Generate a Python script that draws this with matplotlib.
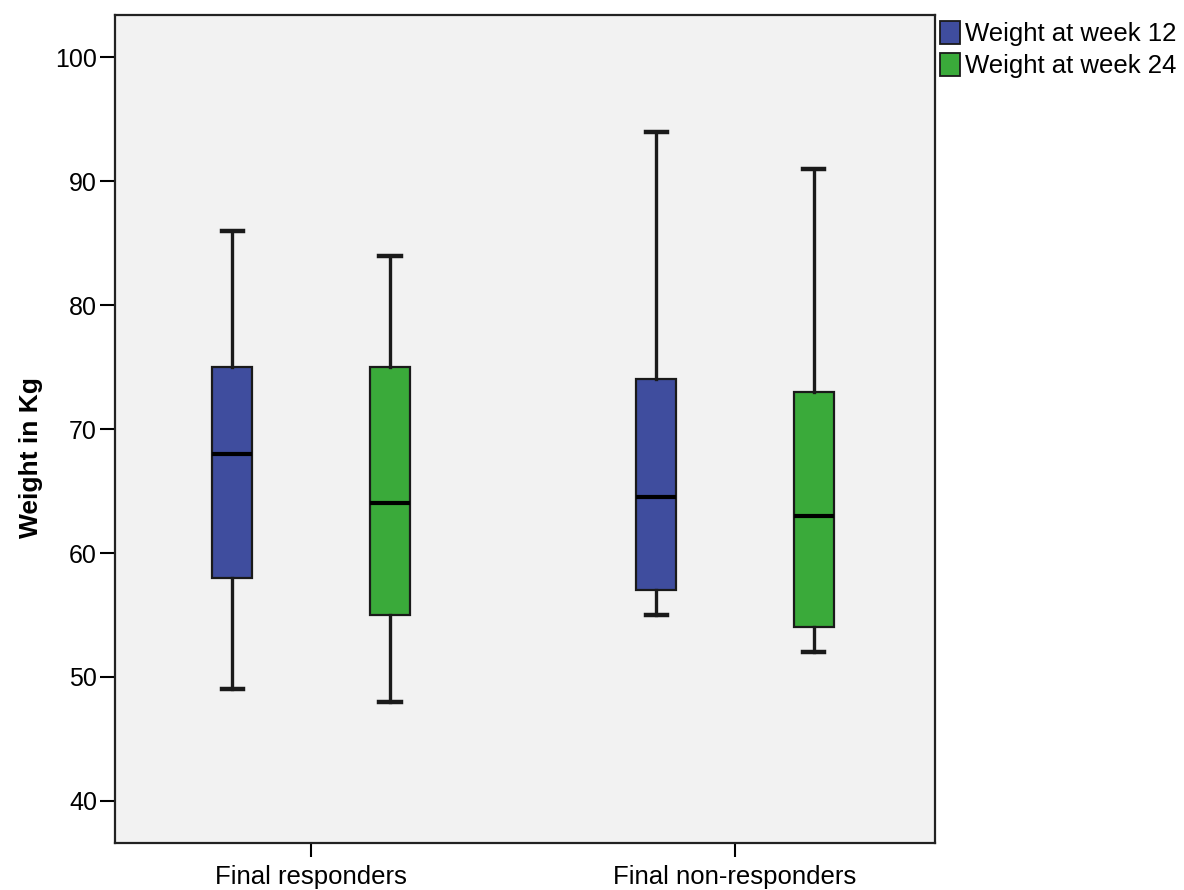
import matplotlib
matplotlib.use("Agg")
import matplotlib.pyplot as plt
from matplotlib.patches import Patch

plt.rcParams["font.family"] = ["Liberation Sans", "DejaVu Sans"]

groups = ["Final responders", "Final non-responders"]
series = ["Weight at week 12", "Weight at week 24"]
colors = ["#3f4d9e", "#3aaa3a"]

# per group, per series: (whislo, q1, med, q3, whishi)
whislo = [[49, 48], [55, 52]]
q1 = [[58, 55], [57, 54]]
med = [[68, 64], [64.5, 63]]
q3 = [[75, 75], [74, 73]]
whishi = [[86, 84], [94, 91]]

offsets = [-0.186, 0.186]
box_w = 0.094

fig = plt.figure(figsize=(11.84, 8.9), dpi=100)
ax = fig.add_axes([0.0971, 0.0528, 0.6926, 0.9302])
ax.set_facecolor("#f2f2f2")

for g in range(len(groups)):
    for s in range(len(series)):
        st = [dict(whislo=whislo[g][s], q1=q1[g][s], med=med[g][s],
                   q3=q3[g][s], whishi=whishi[g][s], fliers=[])]
        ax.bxp(st, positions=[g + offsets[s]], widths=box_w,
               patch_artist=True, showfliers=False,
               boxprops=dict(facecolor=colors[s], edgecolor="#1a1a1a", linewidth=1.6),
               medianprops=dict(color="black", linewidth=3),
               whiskerprops=dict(color="#1a1a1a", linewidth=2.4),
               capprops=dict(color="#1a1a1a", linewidth=3.2),
               capwidths=0.05, manage_ticks=False)

ax.set_xlim(-0.463, 1.472)
ax.set_ylim(36.6, 103.4)
ax.set_xticks(range(len(groups)))
ax.set_xticklabels(groups, fontsize=18.5)
ax.set_yticks([40, 50, 60, 70, 80, 90, 100])
ax.tick_params(axis="y", labelsize=18, length=11, width=1.5, pad=2)
ax.tick_params(axis="x", length=10, width=1.5, pad=6)
ax.set_ylabel("Weight in Kg", fontsize=19, fontweight="bold")
ax.yaxis.set_label_coords(-0.088, 0.4656)
for sp in ax.spines.values():
    sp.set_linewidth(1.6)
    sp.set_color("#222222")

handles = [Patch(facecolor=c, edgecolor="#1a1a1a", linewidth=1.3, label=l)
           for c, l in zip(colors, series)]
fig.legend(handles=handles, loc="upper left", bbox_to_anchor=(0.785, 0.988),
           frameon=False, fontsize=18.5, handlelength=0.8, handleheight=1.0,
           handletextpad=0.2, labelspacing=0.25, borderaxespad=0)

fig.savefig("out.png", dpi=100, facecolor="white")
